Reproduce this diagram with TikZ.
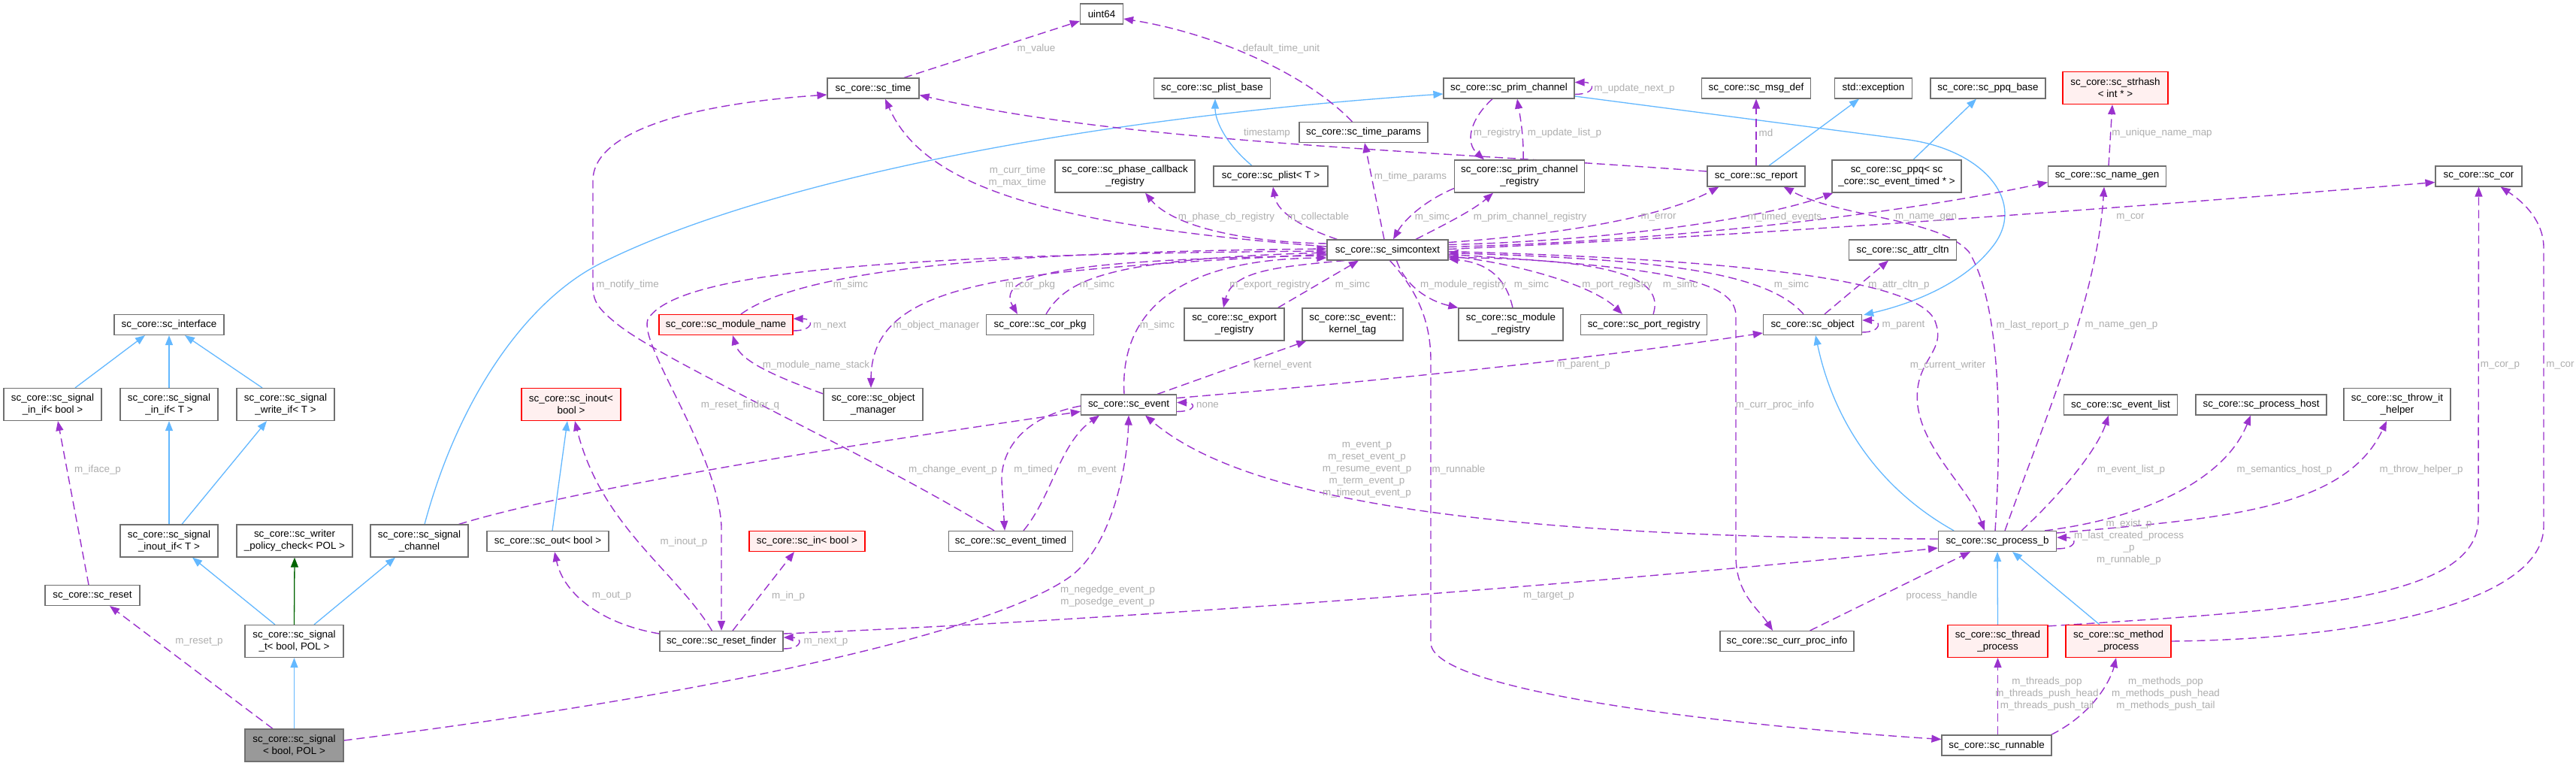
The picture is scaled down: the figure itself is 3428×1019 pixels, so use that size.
\documentclass[tikz,border=0pt]{standalone}
\usepackage{fontspec}
\setmainfont{Liberation Sans}
\usetikzlibrary{arrows.meta,calc}
\pgfdeclarelayer{bg}
\pgfdeclarelayer{edges}
\pgfsetlayers{bg,edges,main}
\definecolor{edgepurple}{HTML}{9A32CD}
\definecolor{inhblue}{HTML}{63B8FF}
\definecolor{inhgreen}{HTML}{006400}
\definecolor{boxborder}{HTML}{707070}
\definecolor{lblgrey}{HTML}{AEAEAE}
\definecolor{redfill}{HTML}{FFF0F0}
\definecolor{mainfill}{HTML}{999999}
\tikzset{
  basefont/.style={font=\fontsize{13.4}{16}\selectfont},
  box/.style={basefont, draw=boxborder, fill=white, line width=1.2pt, inner sep=0pt, align=center, minimum height=27pt},
  box2/.style={box, minimum height=43pt},
  redbox/.style={draw=red, fill=redfill},
  mainbox/.style={fill=mainfill},
  lbl/.style={basefont, text=lblgrey, inner sep=0pt, align=center},
  inh/.style={draw=inhblue, line width=1.3pt, -{Triangle[length=13pt,width=10pt]}},
  inhg/.style={draw=inhgreen, line width=1.3pt, -{Triangle[length=13pt,width=10pt]}},
  col/.style={draw=edgepurple, line width=1.4pt, dash pattern=on 11pt off 6pt, -{Triangle[length=13pt,width=10pt]}},
}
\begin{document}
\begin{tikzpicture}[x=1pt,y=-1pt]
\useasboundingbox (0,0) rectangle (3428,1019);
\begin{pgfonlayer}{bg}
\fill[white] (0,0) rectangle (3428,1019);
\end{pgfonlayer}

% ---------- nodes ----------
\node[box, minimum width=57pt] (uint64) at (1466,18.5) {uint64};
\node[box, minimum width=122pt] (time) at (1162,117.5) {sc\_core::sc\_time};
\node[box, minimum width=155pt] (plistbase) at (1613,117.5) {sc\_core::sc\_plist\_base};
\node[box, minimum width=174pt] (primch) at (2008,117.5) {sc\_core::sc\_prim\_channel};
\node[box, minimum width=145pt] (msgdef) at (2337,117.5) {sc\_core::sc\_msg\_def};
\node[box, minimum width=103pt] (exc) at (2493,117.5) {std::exception};
\node[box, minimum width=153pt] (ppqbase) at (2645.5,117.5) {sc\_core::sc\_ppq\_base};
\node[box2, redbox, minimum width=140pt] (strhash) at (2815,117) {sc\_core::sc\_strhash\\< int * >};
\node[box, minimum width=171pt] (timeparams) at (1814.5,176) {sc\_core::sc\_time\_params};
\node[box2, minimum width=186pt] (phasecb) at (1497,234.5) {sc\_core::sc\_phase\_callback\\\_registry};
\node[box, minimum width=152pt] (plist) at (1691,234.5) {sc\_core::sc\_plist< T >};
\node[box2, minimum width=173pt] (pcreg) at (2022,234.5) {sc\_core::sc\_prim\_channel\\\_registry};
\node[box, minimum width=130pt] (report) at (2337,234.5) {sc\_core::sc\_report};
\node[box2, minimum width=172pt] (ppq) at (2524,234.5) {sc\_core::sc\_ppq< sc\\\_core::sc\_event\_timed * >};
\node[box, minimum width=157pt] (namegen) at (2804,234.5) {sc\_core::sc\_name\_gen};
\node[box, minimum width=115pt] (cor) at (3298.5,234.5) {sc\_core::sc\_cor};
\node[box, minimum width=161pt] (simc) at (1846.5,332.5) {sc\_core::sc\_simcontext};
\node[box, minimum width=143pt] (attr) at (2532,332.5) {sc\_core::sc\_attr\_cltn};
\node[box, minimum width=146pt] (iface) at (225,432) {sc\_core::sc\_interface};
\node[box, redbox, minimum width=178pt] (modname) at (966,432) {sc\_core::sc\_module\_name};
\node[box, minimum width=143pt] (corpkg) at (1384,432) {sc\_core::sc\_cor\_pkg};
\node[box2, minimum width=133pt] (expreg) at (1642.5,431.5) {sc\_core::sc\_export\\\_registry};
\node[box2, minimum width=134pt] (ktag) at (1800,431.5) {sc\_core::sc\_event::\\kernel\_tag};
\node[box2, minimum width=139pt] (modreg) at (2010.5,431.5) {sc\_core::sc\_module\\\_registry};
\node[box, minimum width=168pt] (portreg) at (2187.6,432) {sc\_core::sc\_port\_registry};
\node[box, minimum width=131pt] (object) at (2412,432) {sc\_core::sc\_object};
\node[box2, minimum width=130pt] (inifb) at (70,538) {sc\_core::sc\_signal\\\_in\_if< bool >};
\node[box2, minimum width=130pt] (inifT) at (225,538) {sc\_core::sc\_signal\\\_in\_if< T >};
\node[box2, minimum width=130pt] (writeif) at (380,538) {sc\_core::sc\_signal\\\_write\_if< T >};
\node[box2, redbox, minimum width=132pt] (inout) at (760,538) {sc\_core::sc\_inout<\\bool >};
\node[box2, minimum width=132pt] (objmgr) at (1162,538) {sc\_core::sc\_object\\\_manager};
\node[box, minimum width=127pt] (event) at (1502,538.5) {sc\_core::sc\_event};
\node[box, minimum width=151pt] (evlist) at (2822,538.5) {sc\_core::sc\_event\_list};
\node[box, minimum width=174pt] (prochost) at (3009,538.5) {sc\_core::sc\_process\_host};
\node[box2, minimum width=142pt] (throwh) at (3190,538) {sc\_core::sc\_throw\_it\\\_helper};
\node[box2, minimum width=130pt] (inoutif) at (225,719.5) {sc\_core::sc\_signal\\\_inout\_if< T >};
\node[box2, minimum width=154pt] (writer) at (392,719.5) {sc\_core::sc\_writer\\\_policy\_check< POL >};
\node[box2, minimum width=130pt] (channel) at (558,719.5) {sc\_core::sc\_signal\\\_channel};
\node[box, minimum width=162pt] (scout) at (729,720) {sc\_core::sc\_out< bool >};
\node[box, redbox, minimum width=154pt] (scin) at (1074,720) {sc\_core::sc\_in< bool >};
\node[box, minimum width=165pt] (evtimed) at (1345,720) {sc\_core::sc\_event\_timed};
\node[box, minimum width=157pt] (procb) at (2658,720) {sc\_core::sc\_process\_b};
\node[box, minimum width=126pt] (reset) at (123,792) {sc\_core::sc\_reset};
\node[box2, minimum width=131pt] (signalt) at (391.5,853) {sc\_core::sc\_signal\\\_t< bool, POL >};
\node[box, minimum width=164pt] (finder) at (960,853) {sc\_core::sc\_reset\_finder};
\node[box, minimum width=178pt] (cpi) at (2378,853) {sc\_core::sc\_curr\_proc\_info};
\node[box2, redbox, minimum width=133pt] (thread) at (2658.5,853) {sc\_core::sc\_thread\\\_process};
\node[box2, redbox, minimum width=140pt] (method) at (2819,853) {sc\_core::sc\_method\\\_process};
\node[box2, mainbox, minimum width=131pt] (signal) at (391.5,991.5) {sc\_core::sc\_signal\\< bool, POL >};
\node[box, minimum width=146pt] (runnable) at (2657,991.5) {sc\_core::sc\_runnable};

% ---------- edges ----------
\begin{pgfonlayer}{edges}
% inheritance
\draw[inh] ($(inifb.north)+(30,0)$) -- ($(iface.south)+(-32,0)$);
\draw[inh] (inifT.north) -- (iface.south);
\draw[inh] ($(writeif.north)+(-31,0)$) -- ($(iface.south)+(21,0)$);
\draw[inh] (inoutif.north) -- (inifT.south);
\draw[inh] ($(inoutif.north)+(17,0)$) -- ($(writeif.south)+(-25,0)$);
\draw[inh] ($(signalt.north)+(-25.5,0)$) -- ($(inoutif.south)+(31,0)$);
\draw[inhg] (signalt.north) -- (writer.south);
\draw[inh] ($(signalt.north)+(26.5,0)$) -- ($(channel.south)+(-32,0)$);
\draw[inh] (signal.north) -- (signalt.south);
\draw[inh] ($(channel.north)+(7,0)$) .. controls (610,530) and (700,400) .. (800,350) .. controls (1000,250) and (1400,160) .. ($(primch.west)+(0,7.5)$);
\draw[inh] ($(scout.north)+(6,0)$) -- ($(inout.south)+(-5,0)$);
\draw[inh] ($(primch.east)+(0,10.5)$) -- (2540,186) .. controls (2640,200) and (2700,270) .. (2650,330) .. controls (2610,380) and (2540,405) .. ($(object.north east)+(2,1)$);
\draw[inh] ($(plist.north)+(-25,0)$) .. controls (1630,190) and (1617,160) .. ($(plistbase.south)+(4,0)$);
\draw[inh] ($(report.north)+(17,0)$) -- ($(exc.south)+(-19,0)$);
\draw[inh] ($(ppq.north)+(22,0)$) -- ($(ppqbase.south)+(-15.5,0)$);
\draw[inh] ($(procb.north)+(-58,0)$) .. controls (2500,650) and (2440,560) .. ($(object.south)+(4,0)$);
\draw[inh] (thread.north) -- (procb.south);
\draw[inh] ($(method.north)+(-25,0)$) -- ($(procb.south)+(20,0)$);

% collaboration
\draw[col] ($(signal.north)+(-28.5,0)$) -- ($(reset.south)+(23,0)$);
\draw[col] ($(signal.east)+(0,-6.5)$) .. controls (900,930) and (1300,850) .. (1420,770) .. controls (1480,730) and (1500,620) .. (event.south);
\draw[col] ($(reset.north)+(-5,0)$) -- ($(inifb.south)+(7,0)$);
\draw[col] ($(finder.east)+(0,-10)$) .. controls (1500,825) and (2200,770) .. ($(procb.west)+(0,9)$);
\draw[col] ($(procb.west)+(0,-3)$) .. controls (1950,715) and (1650,660) .. ($(event.south)+(22,0)$);
\draw[col] ($(simc.east)+(0,2)$) .. controls (2300,345) and (2560,370) .. (2576,430) .. controls (2590,470) and (2545,480) .. (2552,540) .. controls (2560,600) and (2620,650) .. ($(procb.north)+(-17,0)$);
\draw[col] ($(modname.north)+(20,0)$) .. controls (1080,350) and (1400,335) .. ($(simc.west)+(0,-1.5)$);
\draw[col] ($(modname.east)+(0,8)$) .. controls +(28,0) and +(28,0) .. ($(modname.east)+(0,-8)$);
\draw[col] ($(objmgr.north west)+(0,8)$) .. controls (1030,500) and (985,480) .. ($(modname.south)+(9,0)$);
\draw[col] ($(simc.west)+(0,5.5)$) .. controls (1350,360) and (1160,370) .. ($(objmgr.north)+(-3,0)$);
\draw[col] ($(simc.west)+(0,7.5)$) .. controls (1450,345) and (1320,360) .. ($(corpkg.north)+(-30,0)$);
\draw[col] ($(corpkg.north)+(8,0)$) .. controls (1420,370) and (1480,345) .. ($(simc.west)+(0,3.5)$);
\draw[col] ($(event.north)+(-6,0)$) .. controls (1490,420) and (1560,345) .. ($(simc.west)+(0,10.5)$);
\draw[col] ($(simc.south west)+(24,0)$) .. controls (1700,355) and (1640,360) .. ($(expreg.north)+(-14.5,0)$);
\draw[col] ($(expreg.north east)+(-9,0)$) -- ($(simc.south)+(-38.5,0)$);
\draw[col] ($(event.north)+(38,0)$) -- ($(ktag.south west)+(6,0)$);
\draw[col] ($(simc.north)+(-4.5,0)$) -- ($(timeparams.south)+(1.5,0)$);
\draw[col] ($(simc.north)+(37.5,0)$) .. controls (1920,300) and (1960,280) .. ($(pcreg.south)+(-35,0)$);
\draw[col] ($(pcreg.south west)+(0,-6)$) .. controls (1900,265) and (1870,290) .. ($(simc.north)+(7.5,0)$);
\draw[col] ($(simc.east)+(0,-10)$) .. controls (2100,310) and (2220,285) .. ($(report.south west)+(16,0)$);
\draw[col] ($(simc.east)+(0,-7)$) .. controls (2150,320) and (2350,290) .. ($(ppq.south west)+(2,0)$);
\draw[col] ($(simc.east)+(0,-4)$) .. controls (2250,320) and (2550,280) .. ($(namegen.west)+(0,8)$);
\draw[col] ($(simc.east)+(0,-1)$) .. controls (2400,310) and (2900,270) .. ($(cor.west)+(0,8)$);
\draw[col] ($(object.north)+(16,0)$) -- ($(attr.south)+(-19,0)$);
\draw[col] ($(object.north)+(-12,0)$) .. controls (2350,360) and (2200,345) .. ($(simc.east)+(0,4)$);
\draw[col] ($(simc.south)+(12,0)$) .. controls (1870,380) and (1900,400) .. (modreg.north west);
\draw[col] ($(modreg.north)+(2.5,0)$) .. controls (2005,373) and (1983,350) .. ($(simc.east)+(0,12)$);
\draw[col] ($(simc.east)+(0,8)$) .. controls (2020,350) and (2120,380) .. ($(portreg.north)+(-28.6,0)$);
\draw[col] ($(portreg.north)+(12.5,0)$) .. controls (2215,370) and (2150,345) .. ($(simc.east)+(0,10)$);
\draw[col] ($(simc.south)+(3,0)$) .. controls (1880,380) and (1904,420) .. (1904,480) -- (1904,855) .. controls (1904,920) and (2300,965) .. ($(runnable.west)+(0,-8)$);
\draw[col] ($(simc.east)+(0,6)$) .. controls (2200,355) and (2310,370) .. (2310,420) -- (2310,740) .. controls (2310,790) and (2340,810) .. ($(cpi.north)+(-19,0)$);
\draw[col] ($(simc.west)+(0,1.5)$) .. controls (1200,338) and (900,360) .. (862,425) .. controls (850,460) and (955,600) .. (960,700) -- (finder.north);
\draw[col] ($(simc.west)+(0,-8.5)$) .. controls (1650,322) and (1560,300) .. ($(phasecb.south)+(27,0)$);
\draw[col] ($(simc.north west)+(14,0)$) .. controls (1740,305) and (1700,285) .. ($(plist.south)+(3,0)$);
\draw[col] ($(simc.west)+(0,-4.5)$) .. controls (1400,300) and (1230,250) .. ($(time.south)+(16,0)$);
\draw[col] ($(report.west)+(0,-6.5)$) .. controls (1900,200) and (1500,190) .. ($(time.east)+(0,9)$);
\draw[col] ($(evtimed.north)+(-22,0)$) .. controls (1150,600) and (880,480) .. (820,430) .. controls (795,410) and (789,400) .. (789,380) -- (789,240) .. controls (789,180) and (900,140) .. ($(time.west)+(0,8.5)$);
\draw[col] ($(channel.north east)+(-13,0)$) .. controls (800,640) and (1250,575) .. ($(event.west)+(0,9)$);
\draw[col] ($(event.west)+(0,1.5)$) .. controls (1360,555) and (1332,600) .. (1333,640) -- ($(evtimed.north)+(-8,0)$);
\draw[col] ($(evtimed.north)+(17,0)$) .. controls (1400,660) and (1410,590) .. ($(event.south)+(-39,0)$);
\draw[col] ($(event.east)+(0,9)$) .. controls +(26,0) and +(26,0) .. ($(event.east)+(0,-3)$);
\draw[col] ($(event.east)+(0,-9)$) .. controls (1800,510) and (2100,480) .. ($(object.west)+(0,11)$);
\draw[col] ($(object.east)+(0,10)$) .. controls +(26,0) and +(26,0) .. ($(object.east)+(0,-6)$);
\draw[col] ($(finder.north west)+(70,0)$) .. controls (900,760) and (800,700) .. ($(inout.south)+(5,0)$);
\draw[col] ($(finder.west)+(0,-10)$) .. controls (800,830) and (750,790) .. ($(scout.south)+(9,0)$);
\draw[col] ($(finder.north)+(15,0)$) -- ($(scin.south)+(-17,0)$);
\draw[col] ($(finder.east)+(0,10)$) .. controls +(26,0) and +(26,0) .. ($(finder.east)+(0,-5)$);
\draw[col] ($(primch.east)+(0,8)$) .. controls +(28,0) and +(28,0) .. ($(primch.east)+(0,-8)$);
\draw[col] ($(primch.south)+(-22,0)$) .. controls (1955,160) and (1950,190) .. ($(pcreg.north)+(-47,0)$);
\draw[col] ($(pcreg.north)+(5,0)$) .. controls (2028,180) and (2022,150) .. ($(primch.south)+(11,0)$);
\draw[col] (report.north) -- (msgdef.south);
\draw[col] ($(timeparams.north)+(-15,0)$) .. controls (1740,100) and (1620,45) .. ($(uint64.east)+(0,6.5)$);
\draw[col] ($(time.north)+(41,0)$) -- ($(uint64.west)+(0,9.5)$);
\draw[col] ($(namegen.north)+(2,0)$) -- ($(strhash.south)+(-4,0)$);
\draw[col] ($(procb.north)+(-3,0)$) .. controls (2665,550) and (2660,400) .. (2620,335) .. controls (2580,290) and (2450,290) .. ($(report.south east)+(-29,0)$);
\draw[col] ($(procb.north)+(10,0)$) .. controls (2720,560) and (2790,400) .. ($(namegen.south)+(-4,0)$);
\draw[col] ($(procb.north)+(32,0)$) .. controls (2740,660) and (2790,600) .. ($(evlist.south)+(-16,0)$);
\draw[col] ($(procb.north east)+(-16,0)$) .. controls (2850,690) and (2960,640) .. ($(prochost.south)+(-14,0)$);
\draw[col] ($(procb.east)+(0,-11)$) .. controls (2950,690) and (3120,680) .. ($(throwh.south)+(-14,0)$);
\draw[col] ($(procb.east)+(0,10)$) .. controls +(28,0) and +(28,0) .. ($(procb.east)+(0,-5)$);
\draw[col] ($(cpi.north east)+(-59,0)$) -- ($(procb.south)+(-36,0)$);
\draw[col] ($(thread.north east)+(0,2)$) .. controls (3050,812) and (3298,800) .. (3298,690) -- (cor.south);
\draw[col] (method.east) .. controls (3150,850) and (3385,800) .. (3385,700) -- (3385,330) .. controls (3385,295) and (3360,270) .. ($(cor.south east)+(-29,0)$);
\draw[col] ($(runnable.north)+(1.5,0)$) -- (thread.south);
\draw[col] ($(runnable.north east)+(-1,0)$) .. controls (2790,947) and (2810,900) .. ($(method.south)+(-3,0)$);
\end{pgfonlayer}

% ---------- labels ----------
\node[lbl] (l01) at (265,854) {m\_reset\_p};
\node[lbl] (l02) at (1474,793) {m\_negedge\_event\_p\\m\_posedge\_event\_p};
\node[lbl] (l03) at (130,625) {m\_iface\_p};
\node[lbl] (l04) at (2061,793) {m\_target\_p};
\node[lbl] (l05) at (1819,625) {m\_event\_p\\m\_reset\_event\_p\\m\_resume\_event\_p\\m\_term\_event\_p\\m\_timeout\_event\_p};
\node[lbl] (l06) at (2592,486) {m\_current\_writer};
\node[lbl] (l07) at (1132,379) {m\_simc};
\node[lbl] (l08) at (1104,433) {m\_next};
\node[lbl] (l09) at (1086,486) {m\_module\_name\_stack};
\node[lbl] (l10) at (1246,433) {m\_object\_manager};
\node[lbl] (l11) at (1371,379) {m\_cor\_pkg};
\node[lbl] (l12) at (1460,379) {m\_simc};
\node[lbl] (l13) at (1540,433) {m\_simc};
\node[lbl] (l14) at (1690,379) {m\_export\_registry};
\node[lbl] (l15) at (1800,379) {m\_simc};
\node[lbl] (l16) at (1707,486) {kernel\_event};
\node[lbl] (l17) at (1877,235) {m\_time\_params};
\node[lbl] (l18) at (2036,289) {m\_prim\_channel\_registry};
\node[lbl] (l19) at (1906,289) {m\_simc};
\node[lbl] (l20) at (2207,289) {m\_error};
\node[lbl] (l21) at (2375,289) {m\_timed\_events};
\node[lbl] (l22) at (2563,289) {m\_name\_gen};
\node[lbl] (l23) at (2835,289) {m\_cor};
\node[lbl] (l24) at (2527,379) {m\_attr\_cltn\_p};
\node[lbl] (l25) at (2384,379) {m\_simc};
\node[lbl] (l26) at (1947,379) {m\_module\_registry};
\node[lbl] (l27) at (2038,379) {m\_simc};
\node[lbl] (l28) at (2152,379) {m\_port\_registry};
\node[lbl] (l29) at (2236,379) {m\_simc};
\node[lbl] (l30) at (1941,625) {m\_runnable};
\node[lbl] (l31) at (2362,539) {m\_curr\_proc\_info};
\node[lbl] (l32) at (985,539) {m\_reset\_finder\_q};
\node[lbl] (l33) at (1632,289) {m\_phase\_cb\_registry};
\node[lbl] (l34) at (1754,289) {m\_collectable};
\node[lbl] (l35) at (1354,235) {m\_curr\_time\\m\_max\_time};
\node[lbl] (l36) at (1686,177) {timestamp};
\node[lbl] (l37) at (835,379) {m\_notify\_time};
\node[lbl] (l38) at (1268,625) {m\_change\_event\_p};
\node[lbl] (l39) at (1375,625) {m\_timed};
\node[lbl] (l40) at (1460,625) {m\_event};
\node[lbl] (l41) at (1607,539) {none};
\node[lbl] (l42) at (2107,486) {m\_parent\_p};
\node[lbl] (l43) at (2533,433) {m\_parent};
\node[lbl] (l44) at (910,721) {m\_inout\_p};
\node[lbl] (l45) at (814,793) {m\_out\_p};
\node[lbl] (l46) at (1049,793) {m\_in\_p};
\node[lbl] (l47) at (1099,854) {m\_next\_p};
\node[lbl] (l48) at (2175,118) {m\_update\_next\_p};
\node[lbl] (l49) at (1992,177) {m\_registry};
\node[lbl] (l50) at (2082,177) {m\_update\_list\_p};
\node[lbl] (l51) at (2350,177) {md};
\node[lbl] (l52) at (1705,65) {default\_time\_unit};
\node[lbl] (l53) at (1379,65) {m\_value};
\node[lbl] (l54) at (2877,177) {m\_unique\_name\_map};
\node[lbl] (l55) at (2705,433) {m\_last\_report\_p};
\node[lbl] (l56) at (2823,433) {m\_name\_gen\_p};
\node[lbl] (l57) at (2836,625) {m\_event\_list\_p};
\node[lbl] (l58) at (3040,625) {m\_semantics\_host\_p};
\node[lbl] (l59) at (3222,625) {m\_throw\_helper\_p};
\node[lbl] (l60) at (2833,721) {m\_exist\_p\\m\_last\_created\_process\\\_p\\m\_runnable\_p};
\node[lbl] (l61) at (2584,793) {process\_handle};
\node[lbl] (l62) at (3327,486) {m\_cor\_p};
\node[lbl] (l63) at (3407,486) {m\_cor};
\node[lbl] (l64) at (2724,923) {m\_threads\_pop\\m\_threads\_push\_head\\m\_threads\_push\_tail};
\node[lbl] (l65) at (2882,923) {m\_methods\_pop\\m\_methods\_push\_head\\m\_methods\_push\_tail};
\end{tikzpicture}
\end{document}
